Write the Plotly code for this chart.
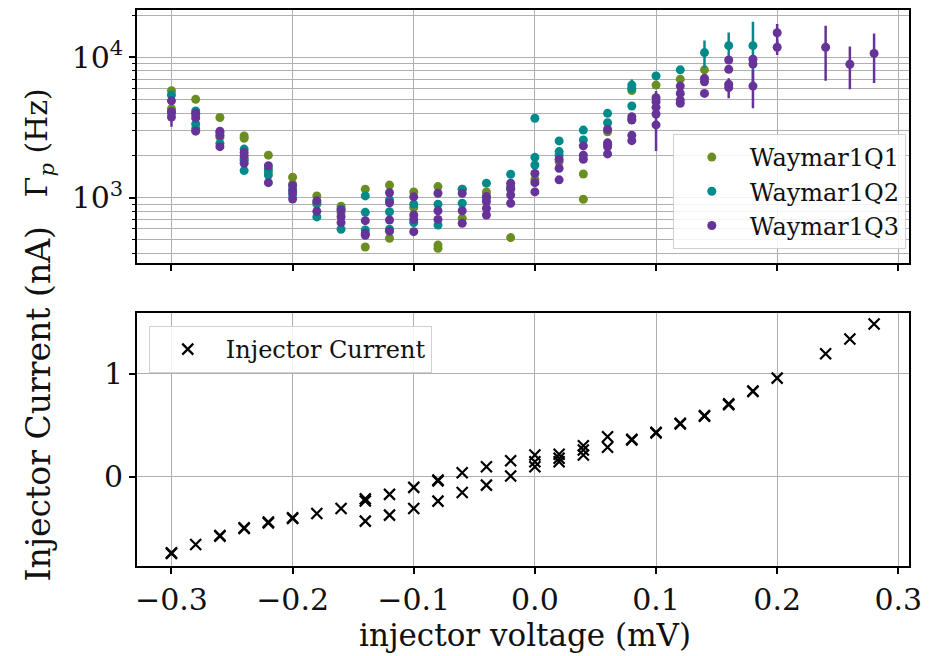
import plotly.graph_objects as go

# ---- Gamma_p (Hz) vs injector voltage, three qubits (repeated runs per bias point) ----
q1_x = [-0.30, -0.30, -0.28, -0.28, -0.26, -0.26, -0.24, -0.24, -0.24, -0.22, -0.22,
        -0.20, -0.20, -0.18, -0.18, -0.16, -0.16, -0.14, -0.14, -0.12, -0.12, -0.10, -0.10,
        -0.08, -0.08, -0.08, -0.06, -0.06, -0.04, -0.02, -0.02, 0.00, 0.02, 0.04, 0.04,
        0.06, 0.06, 0.08, 0.08, 0.10, 0.12, 0.14]
q1_y = [5780, 4300, 5020, 3900, 3730, 2700, 2750, 2650, 1900, 2010, 1530,
        1400, 1250, 1030, 900, 870, 780, 1150, 446, 1230, 514, 1100, 850,
        1200, 460, 436, 1150, 714, 1100, 1200, 520, 1350, 1800, 1475, 975,
        2950, 2400, 5800, 3600, 6340, 6990, 8140]
q1_err = [0, 0, 0, 0, 0, 0, 0, 0, 0, 0, 0,
          0, 0, 0, 0, 0, 0, 0, 0, 0, 0, 0, 0,
          0, 0, 0, 0, 0, 0, 0, 0, 0, 0, 0, 0,
          0, 0, 0, 0, 0, 0, 0]

q2_x = [-0.30, -0.30, -0.28, -0.28, -0.28, -0.26, -0.26, -0.24, -0.24, -0.24, -0.22, -0.22,
        -0.20, -0.20, -0.18, -0.18, -0.16, -0.16, -0.14, -0.14, -0.14, -0.12, -0.12, -0.12,
        -0.10, -0.10, -0.08, -0.08, -0.06, -0.06, -0.04, -0.04, -0.02, -0.02,
        0.00, 0.00, 0.00, 0.02, 0.02, 0.02, 0.04, 0.04, 0.06, 0.06,
        0.08, 0.08, 0.08, 0.10, 0.12, 0.14, 0.16, 0.18]
q2_y = [5400, 4000, 4150, 3350, 3100, 2900, 2440, 2220, 1850, 1560, 1600, 1450,
        1150, 1050, 920, 730, 830, 596, 1030, 787, 589, 963, 795, 596,
        900, 665, 900, 639, 1150, 913, 1270, 1000, 1470, 1150,
        3680, 1940, 1710, 2540, 2130, 2010, 3030, 2580, 3990, 3420,
        6340, 6020, 4500, 7370, 8140, 10800, 12100, 12100]
q2_err = [0, 0, 0, 0, 0, 0, 0, 0, 0, 0, 0, 0,
          0, 0, 0, 0, 0, 0, 0, 0, 0, 0, 0, 0,
          0, 0, 0, 0, 0, 0, 0, 0, 0, 0,
          0, 0, 0, 0, 0, 0, 0, 0, 0, 0,
          620, 0, 0, 0, 0, 2400, 2900, 5800]

q3_x = [-0.30, -0.30, -0.30, -0.28, -0.28, -0.28, -0.26, -0.26, -0.26, -0.24, -0.24, -0.24,
        -0.22, -0.22, -0.20, -0.20, -0.20, -0.18, -0.18, -0.16, -0.16, -0.16,
        -0.14, -0.14, -0.14, -0.12, -0.12, -0.12, -0.12, -0.10, -0.10, -0.10, -0.10,
        -0.08, -0.08, -0.08, -0.06, -0.06, -0.06, -0.04, -0.04, -0.04, -0.04,
        -0.02, -0.02, -0.02, -0.02, 0.00, 0.00, 0.00, 0.02, 0.02, 0.02, 0.04, 0.04, 0.04,
        0.06, 0.06, 0.06, 0.06, 0.08, 0.08, 0.08, 0.08, 0.10, 0.10, 0.10, 0.10, 0.10,
        0.12, 0.12, 0.12, 0.12, 0.14, 0.14, 0.14, 0.16, 0.16, 0.16, 0.16,
        0.18, 0.18, 0.18, 0.20, 0.20, 0.24, 0.26, 0.28]
q3_y = [4900, 4100, 3750, 3990, 3700, 2980, 2980, 2780, 2310, 2100, 1980, 1760,
        1690, 1280, 1220, 1100, 980, 950, 800, 817, 732, 665,
        686, 557, 540, 1085, 920, 694, 578, 1015, 753, 700, 573,
        1075, 808, 701, 1075, 808, 658, 1020, 940, 840, 753,
        1270, 1165, 1045, 913, 1490, 1280, 1100, 1880, 1620, 1340, 2340, 2010, 1880,
        3060, 2460, 2310, 2050, 3780, 3580, 2780, 2550, 5160, 4830, 4400, 3950, 3300,
        6240, 5530, 4960, 4700, 7080, 6690, 5530, 9570, 8210, 6440, 6100,
        9680, 8950, 6240, 14960, 11800, 11800, 8930, 10660]
q3_err = [0, 0, 550, 0, 0, 0, 0, 0, 0, 0, 0, 0,
          0, 0, 0, 0, 0, 0, 0, 0, 0, 0,
          0, 0, 0, 0, 0, 0, 0, 0, 0, 0, 0,
          0, 0, 0, 0, 0, 0, 0, 0, 0, 0,
          0, 0, 0, 0, 0, 0, 0, 0, 0, 0, 0, 0, 0,
          0, 0, 0, 0, 0, 0, 0, 0, 0, 0, 0, 1800, 0,
          0, 0, 0, 0, 0, 0, 0, 0, 0, 0, 1000,
          0, 0, 1900, 2300, 1400, 5000, 3000, 4100]

# ---- Injector current (nA) vs injector voltage ----
inj_x = [-0.30, -0.30, -0.28, -0.26, -0.26, -0.24, -0.24, -0.22, -0.22, -0.20, -0.20,
         -0.18, -0.16, -0.14, -0.14, -0.14, -0.12, -0.12, -0.10, -0.10,
         -0.08, -0.08, -0.08, -0.06, -0.06, -0.04, -0.04, -0.02, -0.02,
         0.00, 0.00, 0.00, 0.02, 0.02, 0.02, 0.04, 0.04, 0.04, 0.06, 0.06,
         0.08, 0.08, 0.10, 0.10, 0.12, 0.12, 0.14, 0.14, 0.16, 0.16, 0.18, 0.18,
         0.20, 0.24, 0.26, 0.28]
inj_y = [-0.746, -0.738, -0.658, -0.577, -0.570, -0.503, -0.495, -0.448, -0.440, -0.405, -0.398,
         -0.357, -0.308, -0.215, -0.235, -0.431, -0.171, -0.373, -0.103, -0.308,
         -0.032, -0.040, -0.237, 0.039, -0.152, 0.097, -0.081, 0.156, 0.007,
         0.211, 0.146, 0.097, 0.218, 0.179, 0.146, 0.302, 0.260, 0.211, 0.389, 0.286,
         0.364, 0.357, 0.432, 0.425, 0.520, 0.512, 0.594, 0.588, 0.708, 0.700, 0.834, 0.828,
         0.958, 1.195, 1.338, 1.484]

x_ticks = [-0.3, -0.2, -0.1, 0.0, 0.1, 0.2, 0.3]
x_tick_text = ["\u22120.3", "\u22120.2", "\u22120.1", "0.0", "0.1", "0.2", "0.3"]
rate_ticks = [1000, 10000]
rate_tick_text = ["10<sup>3</sup>", "10<sup>4</sup>"]
rate_minor = [400, 500, 600, 700, 800, 900, 2000, 3000, 4000, 5000, 6000, 7000, 8000, 9000, 20000]
cur_ticks = [0, 1]
cur_tick_text = ["0", "1"]

SERIF = "DejaVu Serif"
GRID = "#b0b0b0"
INK = "#111111"

fig = go.Figure()

for name, xs, ys, es, col in [
    ("Waymar1Q1", q1_x, q1_y, q1_err, "#6b8e23"),
    ("Waymar1Q2", q2_x, q2_y, q2_err, "#008b8b"),
    ("Waymar1Q3", q3_x, q3_y, q3_err, "#663399"),
]:
    fig.add_trace(go.Scatter(
        x=xs, y=ys, mode="markers", name=name,
        marker=dict(color=col, size=9),
        error_y=dict(type="data", array=es, visible=True, color=col, thickness=2.5, width=0),
        xaxis="x", yaxis="y", legend="legend",
    ))

fig.add_trace(go.Scatter(
    x=inj_x, y=inj_y, mode="markers", name="Injector Current",
    marker=dict(symbol="x-thin", size=11, line=dict(color="black", width=2.2), color="black"),
    xaxis="x2", yaxis="y2", legend="legend2",
))

axis_common = dict(
    showline=True, linecolor="black", linewidth=1.5, mirror=True,
    ticks="outside", ticklen=6, tickwidth=1.5, tickcolor="black",
    showgrid=True, gridcolor=GRID, gridwidth=1, zeroline=False,
    tickfont=dict(family=SERIF, size=30, color=INK),
)

x_dom = [138 / 937, 922 / 937]
x_rng = [-0.3285, 0.309]

legend_common = dict(
    xanchor="left", yanchor="top", itemwidth=66,
    bgcolor="rgba(255,255,255,0.85)", bordercolor="#d0d0d0", borderwidth=1,
    font=dict(family=SERIF, size=24, color=INK),
)

fig.update_layout(
    width=937, height=656,
    margin=dict(l=0, r=0, t=0, b=0),
    paper_bgcolor="white", plot_bgcolor="white",
    font=dict(family=SERIF, color=INK),
    xaxis=dict(axis_common, domain=x_dom, range=x_rng, anchor="y",
               tickmode="array", tickvals=x_ticks, ticktext=x_tick_text,
               showticklabels=False),
    yaxis=dict(axis_common, type="log", domain=[1 - 263 / 656, 1 - 10 / 656],
               range=[2.535, 4.337], anchor="x",
               tickmode="array", tickvals=rate_ticks, ticktext=rate_tick_text,
               minor=dict(tickmode="array", tickvals=rate_minor, showgrid=True,
                          gridcolor=GRID, gridwidth=1, ticks="outside",
                          ticklen=3.5, tickcolor="black", tickwidth=1)),
    xaxis2=dict(axis_common, domain=x_dom, range=x_rng, anchor="y2",
                tickmode="array", tickvals=x_ticks, ticktext=x_tick_text),
    yaxis2=dict(axis_common, domain=[1 - 566 / 656, 1 - 313 / 656],
                range=[-0.867, 1.591], anchor="x2",
                tickmode="array", tickvals=cur_ticks, ticktext=cur_tick_text),
    legend=dict(legend_common, x=682 / 937, y=1 - 134 / 656),
    legend2=dict(legend_common, x=150 / 937, y=1 - 326 / 656),
    showlegend=True,
)

fig.add_annotation(text="\u0393<sub><i>p</i></sub> (Hz)", x=38 / 937, y=1 - 143 / 656,
                   xref="paper", yref="paper", textangle=-90, showarrow=False,
                   font=dict(family=SERIF, size=30, color=INK),
                   xanchor="center", yanchor="middle")
fig.add_annotation(text="Injector Current (nA)", x=38 / 937, y=1 - 404 / 656,
                   xref="paper", yref="paper", textangle=-90, showarrow=False,
                   font=dict(family=SERIF, size=33, color=INK),
                   xanchor="center", yanchor="middle")
fig.add_annotation(text="injector voltage (mV)", x=532 / 937, y=1 - 635 / 656,
                   xref="paper", yref="paper", showarrow=False,
                   font=dict(family=SERIF, size=31, color=INK),
                   xanchor="center", yanchor="middle")

fig.write_html("out.html")
